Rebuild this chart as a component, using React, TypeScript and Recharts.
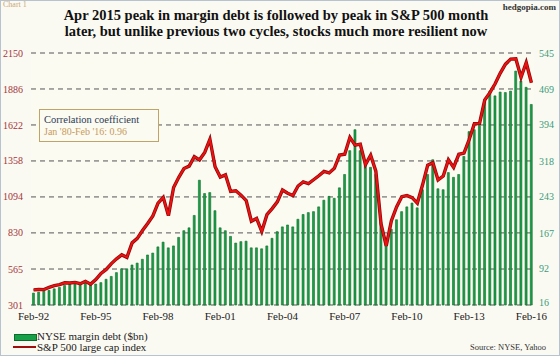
import React from 'react';
import { ComposedChart, Bar, Line, XAxis, YAxis, CartesianGrid } from 'recharts';

const SERIF = "'Liberation Serif', 'Times New Roman', serif";

// quarterly observations Feb / May / Aug / Nov, Feb-92 .. Feb-16
const quarterMonths = ['Feb', 'May', 'Aug', 'Nov'];
const firstYear = 1992;
const lastYear = 2016;

const sp500 = [
  412, 415, 414, 431,
  443, 450, 464, 462,
  467, 457, 475, 454,
  487, 533, 562, 605,
  640, 669, 651, 757,
  790, 848, 899, 955,
  1049, 1091, 957, 1163,
  1238, 1302, 1320, 1389,
  1366, 1420, 1517, 1315,
  1240, 1256, 1134, 1139,
  1107, 1067, 916, 936,
  841, 964, 1008, 1058,
  1145, 1121, 1104, 1174,
  1204, 1192, 1220, 1249,
  1281, 1270, 1304, 1401,
  1407, 1531, 1474, 1481,
  1331, 1400, 1283, 896,
  735, 919, 1021, 1096,
  1104, 1089, 1049, 1181,
  1327, 1345, 1219, 1247,
  1366, 1310, 1407, 1416,
  1515, 1631, 1633, 1806,
  1859, 1924, 2003, 2068,
  2105, 2107, 1972, 2080,
  1932,
];

const marginDebt = [
  41, 43, 45, 47,
  50, 53, 57, 60,
  62, 61, 62, 60,
  60, 63, 70, 76,
  84, 92, 92, 100,
  104, 112, 121, 125,
  138, 148, 136, 140,
  158, 172, 178, 204,
  278, 250, 252, 214,
  178, 172, 160, 146,
  149, 150, 136, 136,
  134, 140, 156, 170,
  180, 184, 180, 196,
  206, 210, 212, 222,
  236, 244, 240, 262,
  290, 340, 384, 340,
  310, 305, 290, 190,
  150, 175, 195, 212,
  222, 230, 220, 258,
  290, 321, 260, 258,
  294, 284, 290, 328,
  380, 384, 400, 444,
  465, 455, 463, 462,
  465, 507, 486, 473,
  437,
];

const xTicks = ['Feb-92', 'Feb-95', 'Feb-98', 'Feb-01', 'Feb-04', 'Feb-07', 'Feb-10', 'Feb-13', 'Feb-16'];
const leftTicks = [301, 565, 830, 1094, 1358, 1622, 1886, 2150];
const rightTicks = [16, 92, 167, 243, 318, 394, 469, 545];

const titleLines = [
  'Apr 2015 peak in margin debt is followed by peak in S&P 500 month',
  'later, but unlike previous two cycles, stocks much more resilient now',
];
const legendLabels = ['NYSE margin debt ($bn)', 'S&P 500 large cap index'];
const corrLines = ['Correlation coefficient', "Jan '80-Feb '16: 0.96"];

const periods: string[] = [];
for (let y = firstYear; y <= lastYear; y++) {
  for (const m of quarterMonths) {
    if (y === lastYear && m !== 'Feb') break;
    periods.push(`${m}-${String(y % 100).padStart(2, '0')}`);
  }
}

const data = periods.map((p, i) => ({ period: p, sp: sp500[i], debt: marginDebt[i] }));

const RightTick = (props: any) => {
  const { x, y, payload } = props;
  const lift = payload.value === rightTicks[0] ? -3 : 0;
  return (
    <text x={x} y={y + lift} dy="0.355em" textAnchor="start" fill="#3a9a7a" fontSize={10} fontFamily={SERIF}>
      {payload.value}
    </text>
  );
};

export default function App() {
  return (
    <div
      style={{
        position: 'absolute',
        left: 0,
        top: 0,
        width: 560,
        height: 356,
        background: '#fbfaf2',
        boxShadow: 'inset 0 0 0 1px #b7c3cf',
        fontFamily: SERIF,
        overflow: 'hidden',
      }}
    >
      <div style={{ position: 'absolute', left: 0, top: 0 }}>
        <ComposedChart
          width={560}
          height={356}
          data={data}
          margin={{ top: 53, right: 2, bottom: 35, left: 1 }}
          barCategoryGap="28%"
        >
          <CartesianGrid
            yAxisId="left"
            vertical={false}
            horizontal={true}
            stroke="#555"
            strokeDasharray="5 4"
            fill="#fcfbf1"
          />
          <XAxis
            dataKey="period"
            ticks={xTicks}
            interval={0}
            axisLine={false}
            tickLine={false}
            tickSize={5}
            height={16}
            tick={{ fill: '#222', fontSize: 11, fontFamily: SERIF }}
          />
          <YAxis
            yAxisId="left"
            orientation="left"
            domain={[301, 2150]}
            ticks={leftTicks}
            interval={0}
            width={30}
            axisLine={false}
            tickLine={false}
            tick={{ fill: '#a3343a', fontSize: 10, fontFamily: SERIF }}
          />
          <YAxis
            yAxisId="right"
            orientation="right"
            domain={[16, 545]}
            ticks={rightTicks}
            interval={0}
            width={24}
            axisLine={false}
            tickLine={false}
            tickSize={3}
            tickMargin={2}
            tick={<RightTick />}
          />
          <Bar
            yAxisId="right"
            dataKey="debt"
            fill="#17a047"
            stroke="#0d6b2c"
            strokeWidth={0.6}
            isAnimationActive={false}
          />
          <Line
            yAxisId="left"
            dataKey="sp"
            type="linear"
            stroke="#8a0a0a"
            strokeWidth={3.4}
            dot={false}
            activeDot={false}
            isAnimationActive={false}
          />
          <Line
            yAxisId="left"
            dataKey="sp"
            type="linear"
            stroke="#ee1111"
            strokeWidth={1.9}
            dot={false}
            activeDot={false}
            isAnimationActive={false}
          />
        </ComposedChart>
      </div>

      {/* Chart label */}
      <div style={{ position: 'absolute', left: 3, top: 0, fontSize: 8, color: '#c9a878', lineHeight: '10px' }}>
        Chart 1
      </div>
      <div
        style={{
          position: 'absolute',
          right: 4,
          top: 2,
          fontSize: 9,
          fontWeight: 'bold',
          color: '#333',
          lineHeight: '10px',
        }}
      >
        hedgopia.com
      </div>

      {/* Title */}
      <div
        style={{
          position: 'absolute',
          left: 0,
          top: 7,
          width: 552,
          textAlign: 'center',
          fontWeight: 'bold',
          fontSize: 14.5,
          lineHeight: '16px',
          color: '#111',
        }}
      >
        <div>{titleLines[0]}</div>
        <div>{titleLines[1]}</div>
      </div>

      {/* Correlation box */}
      <div
        style={{
          position: 'absolute',
          left: 39,
          top: 109,
          width: 114,
          height: 31,
          border: '1.5px solid #bfa468',
          background: '#fcfbf1',
          paddingLeft: 4,
          boxSizing: 'content-box',
        }}
      >
        <div style={{ fontSize: 10.5, color: '#2b3a55', lineHeight: '13px', marginTop: 3 }}>{corrLines[0]}</div>
        <div style={{ fontSize: 10, color: '#c79a5c', lineHeight: '12px' }}>{corrLines[1]}</div>
      </div>

      {/* Legend */}
      <div style={{ position: 'absolute', left: 14, top: 334, width: 21, height: 5, background: '#17a047', border: '0.5px solid #0d6b2c' }} />
      <div style={{ position: 'absolute', left: 37, top: 330, fontSize: 11, color: '#222', lineHeight: '12px' }}>
        {legendLabels[0]}
      </div>
      <div style={{ position: 'absolute', left: 13, top: 346, width: 23, height: 2, background: '#a00d0d' }} />
      <div style={{ position: 'absolute', left: 37, top: 341, fontSize: 11, color: '#222', lineHeight: '12px' }}>
        {legendLabels[1]}
      </div>

      {/* Source */}
      <div style={{ position: 'absolute', right: 14, top: 342, fontSize: 8.5, color: '#333', lineHeight: '10px' }}>
        Source: NYSE, Yahoo
      </div>
    </div>
  );
}
